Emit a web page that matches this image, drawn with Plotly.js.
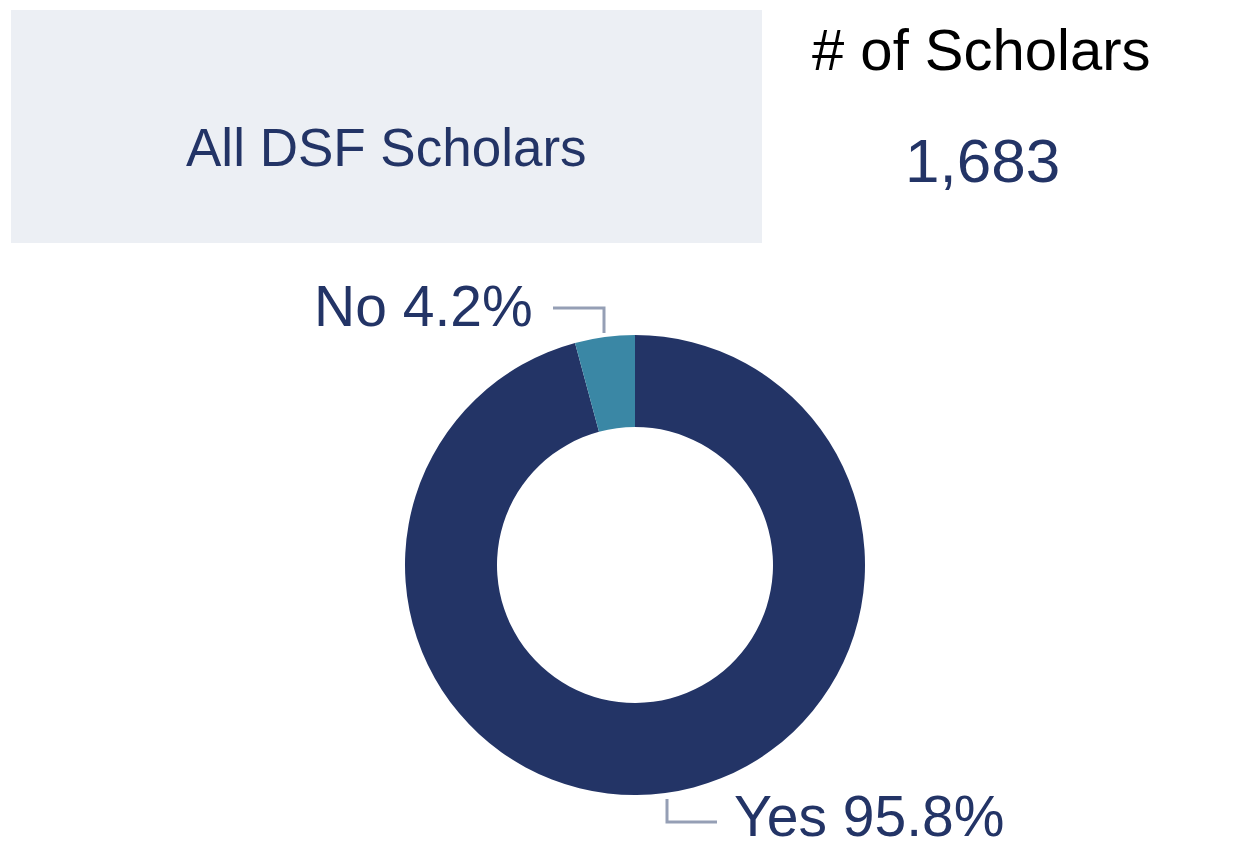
<!DOCTYPE html>
<html>
<head>
<meta charset="utf-8">
<script src="https://cdn.plot.ly/plotly-3.0.1.min.js"></script>
<style>html,body{margin:0;padding:0;background:#fff;}#chart{width:1251px;height:849px;}</style>
</head>
<body>
<div id="chart"></div>
<script>
const categories = ["Yes", "No"];
const shares = [95.8, 4.2];
const sliceColors = ["#233466", "#3A87A5"];
const groupLabel = "All DSF Scholars";
const countTitle = "# of Scholars";
const countValue = "1,683";

const W = 1251, H = 849;
const px = x => x / W;
const py = y => 1 - y / H;
const FONT = "Liberation Sans, Arial, sans-serif";
const NAVY = "#233466";
const LEAD = "#959FB5";

const cx = 635, cy = 565, R = 230;

const trace = {
  type: "pie",
  labels: categories,
  values: shares,
  sort: false,
  direction: "clockwise",
  rotation: 0,
  hole: 0.6,
  textinfo: "none",
  hoverinfo: "label+percent",
  marker: {colors: sliceColors, line: {width: 0}},
  domain: {x: [px(cx - R), px(cx + R)], y: [py(cy + R), py(cy - R)]},
  showlegend: false
};

const layout = {
  width: W, height: H,
  margin: {l: 0, r: 0, t: 0, b: 0},
  paper_bgcolor: "#ffffff",
  showlegend: false,
  shapes: [
    {type: "rect", xref: "paper", yref: "paper", x0: px(11), x1: px(762), y0: py(243), y1: py(10),
     fillcolor: "#ECEFF4", line: {width: 0}, layer: "below"},
    {type: "path", xref: "paper", yref: "paper",
     path: `M ${px(553)} ${py(308)} L ${px(604)} ${py(308)} L ${px(604)} ${py(333)}`,
     line: {color: LEAD, width: 3}},
    {type: "path", xref: "paper", yref: "paper",
     path: `M ${px(667)} ${py(799)} L ${px(667)} ${py(822)} L ${px(717)} ${py(822)}`,
     line: {color: LEAD, width: 3}}
  ],
  annotations: [
    {xref: "paper", yref: "paper", x: px(386), y: py(147), text: groupLabel, showarrow: false,
     xanchor: "center", yanchor: "middle", font: {family: FONT, size: 53, color: NAVY}},
    {xref: "paper", yref: "paper", x: px(981), y: py(50), text: countTitle, showarrow: false,
     xanchor: "center", yanchor: "middle", font: {family: FONT, size: 58, color: "#000000"}},
    {xref: "paper", yref: "paper", x: px(982), y: py(160), text: countValue, showarrow: false,
     xanchor: "center", yanchor: "middle", font: {family: FONT, size: 62, color: NAVY}},
    {xref: "paper", yref: "paper", x: px(535), y: py(306),
     text: categories[1] + " " + shares[1].toFixed(1) + "%", showarrow: false,
     xanchor: "right", yanchor: "middle", font: {family: FONT, size: 57, color: NAVY}},
    {xref: "paper", yref: "paper", x: px(733), y: py(816), borderpad: 0,
     text: categories[0] + " " + shares[0].toFixed(1) + "%", showarrow: false,
     xanchor: "left", yanchor: "middle", font: {family: FONT, size: 57, color: NAVY}}
  ]
};

Plotly.newPlot("chart", [trace], layout, {displayModeBar: false, staticPlot: true});
</script>
</body>
</html>
